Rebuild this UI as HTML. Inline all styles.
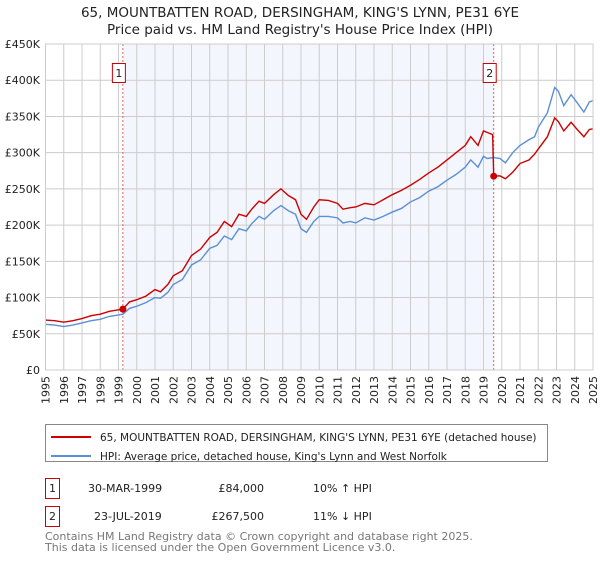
<!DOCTYPE html>
<html><head><meta charset="utf-8"><style>
body{margin:0;background:#fff;font-family:"DejaVu Sans","Liberation Sans",sans-serif;}
svg text{font-family:"DejaVu Sans","Liberation Sans",sans-serif;}
</style></head><body>
<svg id="chart" width="600" height="560" viewBox="0 0 600 560" xmlns="http://www.w3.org/2000/svg">
<text x="300" y="17" text-anchor="middle" font-size="13.5" fill="#222">65, MOUNTBATTEN ROAD, DERSINGHAM, KING'S LYNN, PE31 6YE</text>
<text x="300" y="34" text-anchor="middle" font-size="13.5" fill="#222">Price paid vs. HM Land Registry's House Price Index (HPI)</text>
<g id="plot"></g>
<rect x="45.5" y="424.5" width="502" height="37" fill="#fff" stroke="#888"/>
<line x1="51" y1="437" x2="91" y2="437" stroke="#cc0000" stroke-width="2"/>
<text x="100" y="441" font-size="10.5" fill="#222">65, MOUNTBATTEN ROAD, DERSINGHAM, KING'S LYNN, PE31 6YE (detached house)</text>
<line x1="51" y1="456" x2="91" y2="456" stroke="#5b8fd4" stroke-width="2"/>
<text x="100" y="460" font-size="10.5" fill="#222">HPI: Average price, detached house, King's Lynn and West Norfolk</text>
<g font-size="11" fill="#222">
<rect x="45.5" y="478.5" width="14" height="20" fill="#fff" stroke="#cc0000"/>
<text x="52.5" y="492" text-anchor="middle">1</text>
<text x="88" y="492">30-MAR-1999</text>
<text x="264" y="492" text-anchor="end">£84,000</text>
<text x="313" y="492">10% ↑ HPI</text></g>
<g font-size="11" fill="#222">
<rect x="45.5" y="506.5" width="14" height="20" fill="#fff" stroke="#cc0000"/>
<text x="52.5" y="520" text-anchor="middle">2</text>
<text x="94" y="520">23-JUL-2019</text>
<text x="264" y="520" text-anchor="end">£267,500</text>
<text x="313" y="520">11% ↓ HPI</text></g>
<text x="45" y="540" font-size="11" fill="#777">Contains HM Land Registry data © Crown copyright and database right 2025.</text>
<text x="45" y="551" font-size="11" fill="#777">This data is licensed under the Open Government Licence v3.0.</text>
</svg>
<script>
const hpiYears=[1995,1995.5,1996,1996.5,1997,1997.5,1998,1998.5,1999,1999.24,1999.6,2000,2000.5,2001,2001.3,2001.7,2002,2002.5,2003,2003.5,2004,2004.4,2004.8,2005.2,2005.6,2006,2006.3,2006.7,2007,2007.5,2007.9,2008.3,2008.7,2009,2009.3,2009.7,2010,2010.5,2011,2011.3,2011.7,2012,2012.5,2013,2013.5,2014,2014.5,2015,2015.5,2016,2016.5,2017,2017.5,2018,2018.3,2018.7,2019,2019.2,2019.5,2019.56,2019.9,2020.2,2020.6,2021,2021.5,2021.8,2022,2022.5,2022.9,2023.1,2023.4,2023.8,2024.1,2024.5,2024.8,2025];
const hpiValues=[63,62,60,62,65,68,70,74,76,77,85,88,93,100,99,107,118,125,145,152,168,172,185,180,195,192,202,212,208,220,227,220,215,195,190,205,212,212,210,203,205,203,210,207,212,218,223,232,238,247,253,262,270,280,290,280,295,292,293,293,292,286,300,310,318,322,335,355,390,385,365,380,370,356,370,372];
const propValues=[69,68,66,68,71,75,77,81,83,84,94,97,102,111,108,118,130,137,158,167,183,190,205,198,215,212,222,233,230,242,250,241,235,215,208,225,235,234,230,222,224,225,230,228,235,242,248,255,263,272,280,290,300,310,322,310,330,328,325,267.5,268,264,273,285,290,298,305,322,348,343,330,342,333,322,332,333];
const yTicks=[0,50,100,150,200,250,300,350,400,450];
const yTickLabels=["£0","£50K","£100K","£150K","£200K","£250K","£300K","£350K","£400K","£450K"];
const xTicks=[1995,1996,1997,1998,1999,2000,2001,2002,2003,2004,2005,2006,2007,2008,2009,2010,2011,2012,2013,2014,2015,2016,2017,2018,2019,2020,2021,2022,2023,2024,2025];
const sales=[{n:"1",year:1999.24,value:84},{n:"2",year:2019.56,value:267.5}];
const X0=45.5,X1=593,Y0=370,Y1=44;
const xs=y=>X0+(y-1995)/(2025-1995)*(X1-X0);
const ys=v=>Y0-v/450*(Y0-Y1);
const NS="http://www.w3.org/2000/svg";
const g=document.getElementById('plot');
function mk(t,a){const e=document.createElementNS(NS,t);for(const k in a)e.setAttribute(k,a[k]);g.appendChild(e);return e;}
let e=mk('rect',{x:xs(sales[0].year),y:Y1,width:xs(sales[1].year)-xs(sales[0].year),height:Y0-Y1,fill:'#f3f6fd'});


xTicks.forEach(t=>{
 let l=mk('line',{x1:xs(t),x2:xs(t),y1:Y1,y2:Y0,stroke:'#cccccc','stroke-width':1});
 
 
 let tx=mk('text',{x:0,y:0,'font-size':11,fill:'#222','text-anchor':'end',transform:`translate(${xs(t)+4},376) rotate(-90)`});
 tx.textContent=t;
 
 
});
yTicks.forEach((t,i)=>{
 let l=mk('line',{x1:X0,x2:X1,y1:ys(t),y2:ys(t),stroke:'#cccccc','stroke-width':1});
 
 
 let tx=mk('text',{x:40,y:ys(t)+4,'font-size':11,fill:'#222','text-anchor':'end'});
 tx.textContent=yTickLabels[i];
 
 
});
sales.forEach(s=>{
 let l=mk('line',{x1:xs(s.year),x2:xs(s.year),y1:Y1,y2:Y0,stroke:'#e06060','stroke-width':1,'stroke-dasharray':'2,2'});
 
 
 let r=mk('rect',{x:xs(s.year)-10.5,y:63.5,width:13,height:19,fill:'#fff',stroke:'#cc0000'});
 
 
 let tx=mk('text',{x:xs(s.year)-4,y:77,'font-size':11,fill:'#222','text-anchor':'middle'});
 tx.textContent=s.n;
 
 
});
let hp=mk('polyline',{points:hpiYears.map((y,i)=>xs(y)+','+ys(hpiValues[i])).join(' '),fill:'none',stroke:'#5b8fd4','stroke-width':1.4});


let pp=mk('polyline',{points:hpiYears.map((y,i)=>xs(y)+','+ys(propValues[i])).join(' '),fill:'none',stroke:'#cc0000','stroke-width':1.4});


sales.forEach(s=>{
 let c=mk('circle',{cx:xs(s.year),cy:ys(s.value),r:3.5,fill:'#cc0000'});
 
 
});
let ax=mk('rect',{x:X0,y:Y1,width:X1-X0,height:Y0-Y1,fill:'none',stroke:'#cccccc'});


</script>
</body></html>
